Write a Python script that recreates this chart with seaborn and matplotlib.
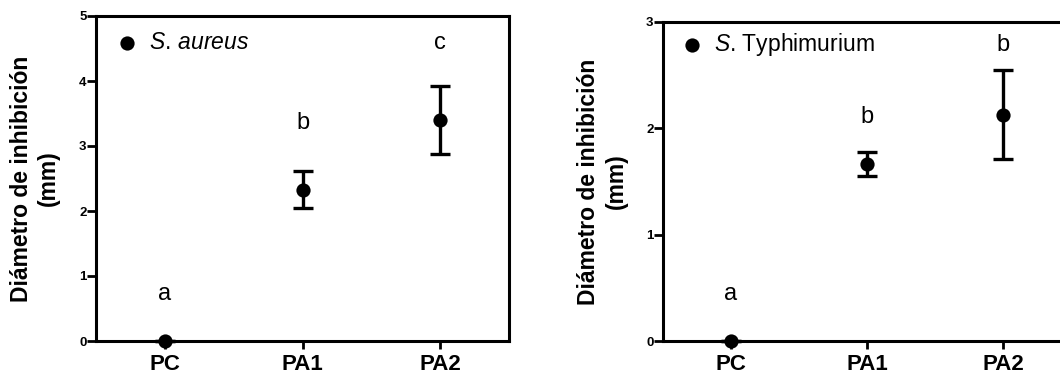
import matplotlib
matplotlib.use("Agg")
import matplotlib.pyplot as plt
import seaborn as sns
import pandas as pd
import numpy as np

sns.set_style("ticks", {"axes.edgecolor": "black", "xtick.color": "black",
                        "ytick.color": "black", "text.color": "black",
                        "axes.labelcolor": "black"})
plt.rcParams['font.family'] = ['Liberation Sans', 'DejaVu Sans']
plt.rcParams['mathtext.fontset'] = 'custom'
plt.rcParams['mathtext.it'] = 'Liberation Sans:italic'
plt.rcParams['mathtext.rm'] = 'Liberation Sans'

categories = ["PC", "PA1", "PA2"]

aureus_mean = [0.0, 2.33, 3.40]
aureus_lo = [0.0, 2.04, 2.87]
aureus_hi = [0.0, 2.62, 3.92]
aureus_letters = ["a", "b", "c"]
aureus_letter_y = [0.72, 3.36, 4.58]

typhi_mean = [0.0, 1.665, 2.13]
typhi_lo = [0.0, 1.55, 1.71]
typhi_hi = [0.0, 1.78, 2.545]
typhi_letters = ["a", "b", "b"]
typhi_letter_y = [0.44, 2.11, 2.78]

fig = plt.figure(figsize=(10.6, 3.74), dpi=100)
ax1 = fig.add_axes([96/1060, 33/374, 413/1060, 325/374])
ax2 = fig.add_axes([663/1060, 33/374, 408/1060, 319/374])

def panel(ax, mean, lo, hi, letters, letter_y, ymax, label, label_x, leg_anchor):
    df = pd.DataFrame({"cat": categories, "mean": mean})
    x = np.arange(len(categories))
    yerr = [np.array(mean) - np.array(lo), np.array(hi) - np.array(mean)]
    ax.errorbar(x, mean, yerr=yerr, fmt='none', ecolor='black', elinewidth=2.4,
                capsize=7, capthick=2.4, zorder=3, clip_on=False)
    sns.scatterplot(data=df, x="cat", y="mean", ax=ax, color="black", s=105,
                    edgecolor="black", linewidth=0, zorder=4, clip_on=False,
                    label=label)
    for xi, t, ty in zip(x, letters, letter_y):
        ax.text(xi, ty, t, ha="center", va="center", fontsize=17, color="black")
    ax.set_xlim(-0.5, 2.5)
    ax.set_ylim(0, ymax)
    ax.set_yticks(range(0, ymax + 1))
    ax.set_xticks(x)
    ax.set_xticklabels(categories, fontsize=16, fontweight="bold")
    for lbl in ax.get_yticklabels():
        lbl.set_fontsize(9.5)
        lbl.set_fontweight("bold")
    ax.tick_params(axis="y", length=6.5, width=2.0, pad=0.3, colors="black")
    ax.tick_params(axis="x", length=6, width=2.0, pad=3, colors="black")
    ax.set_xlabel("")
    ax.set_ylabel("Diámetro de inhibición\n(mm)", fontsize=16.5, fontweight="bold",
                  linespacing=1.25, color="black")
    ax.yaxis.set_label_coords(label_x, 0.5)
    for sp in ax.spines.values():
        sp.set_linewidth(2.2)
        sp.set_color("black")
        sp.set_visible(True)
    leg = ax.legend(loc="center left", bbox_to_anchor=leg_anchor, frameon=False,
                    fontsize=16.5, handletextpad=0.45, borderaxespad=0, borderpad=0,
                    markerscale=1.0, handlelength=1.0, labelcolor="black")
    return leg

panel(ax1, aureus_mean, aureus_lo, aureus_hi, aureus_letters, aureus_letter_y, 5,
      r"$\it{S.\,aureus}$", -0.087, (0.047, 0.917))
panel(ax2, typhi_mean, typhi_lo, typhi_hi, typhi_letters, typhi_letter_y, 3,
      r"$\it{S}$. Typhimurium", -0.086, (0.043, 0.928))

fig.savefig("out.png", dpi=100)
